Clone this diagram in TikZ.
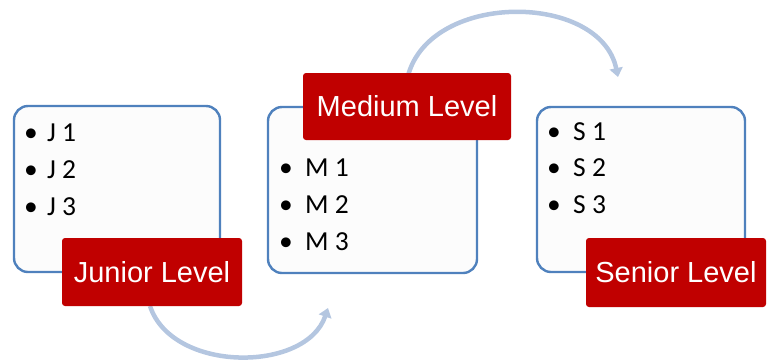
\documentclass[tikz,border=0pt]{standalone}
\usepackage{fontspec}
\setmainfont{Carlito}
\newfontfamily\labelfont{Liberation Sans}
\usetikzlibrary{arrows.meta}
\definecolor{boxblue}{RGB}{79,129,189}
\definecolor{boxfill}{RGB}{252,252,252}
\definecolor{lblred}{RGB}{192,0,0}
\definecolor{arcblue}{RGB}{180,198,224}
\begin{document}
\begin{tikzpicture}[x=1pt,y=-1pt,
  listbox/.style={draw=boxblue,line width=2.4pt,fill=boxfill,rounded corners=14pt,inner sep=0pt},
  lvl/.style={fill=lblred,rounded corners=3pt,text=white,font=\labelfont\fontsize{29}{32}\selectfont,inner sep=0pt},
  item/.style={anchor=base west,inner sep=0pt,font=\fontsize{27.5}{30}\selectfont},
  arc/.style={draw=arcblue,line width=4.5pt,-{Triangle[length=9pt,width=13pt]}}]
\useasboundingbox (0,0) rectangle (768,360);
% connector end points
\coordinate (a1e) at (328,308);
\coordinate (a2e) at (618,77);
% boxes
\node[listbox,minimum width=206pt,minimum height=166pt] (jb) at (117,189) {};
\node[listbox,minimum width=209pt,minimum height=166pt] (mb) at (372.5,190) {};
\node[listbox,minimum width=208pt,minimum height=165pt] (sb) at (641,189.5) {};
% items
\node[item] (j1) at (24,141.5) {\makebox[23pt][l]{•}J 1};
\node[item] (j2) at (24,178.5) {\makebox[23pt][l]{•}J 2};
\node[item] (j3) at (24,215.5) {\makebox[23pt][l]{•}J 3};
\node[item] (m1) at (279,176) {\makebox[26pt][l]{•}M 1};
\node[item] (m2) at (279,213) {\makebox[26pt][l]{•}M 2};
\node[item] (m3) at (279,250) {\makebox[26pt][l]{•}M 3};
\node[item] (s1) at (547,140) {\makebox[26pt][l]{•}S 1};
\node[item] (s2) at (547,176.5) {\makebox[26pt][l]{•}S 2};
\node[item] (s3) at (547,213.5) {\makebox[26pt][l]{•}S 3};
% connectors
\draw[arc] (150,306) .. controls (172,373) and (306,373) .. (a1e);
\draw[arc] (407,80) .. controls (425,-9) and (600,-9) .. (a2e);
% labels
\node[lvl,minimum width=180pt,minimum height=68pt] (jl) at (152,272) {Junior Level};
\node[lvl,minimum width=208pt,minimum height=67pt] (ml) at (407,106.5) {Medium Level};
\node[lvl,minimum width=180pt,minimum height=69pt] (sl) at (676,272.5) {Senior Level};
\end{tikzpicture}
\end{document}
